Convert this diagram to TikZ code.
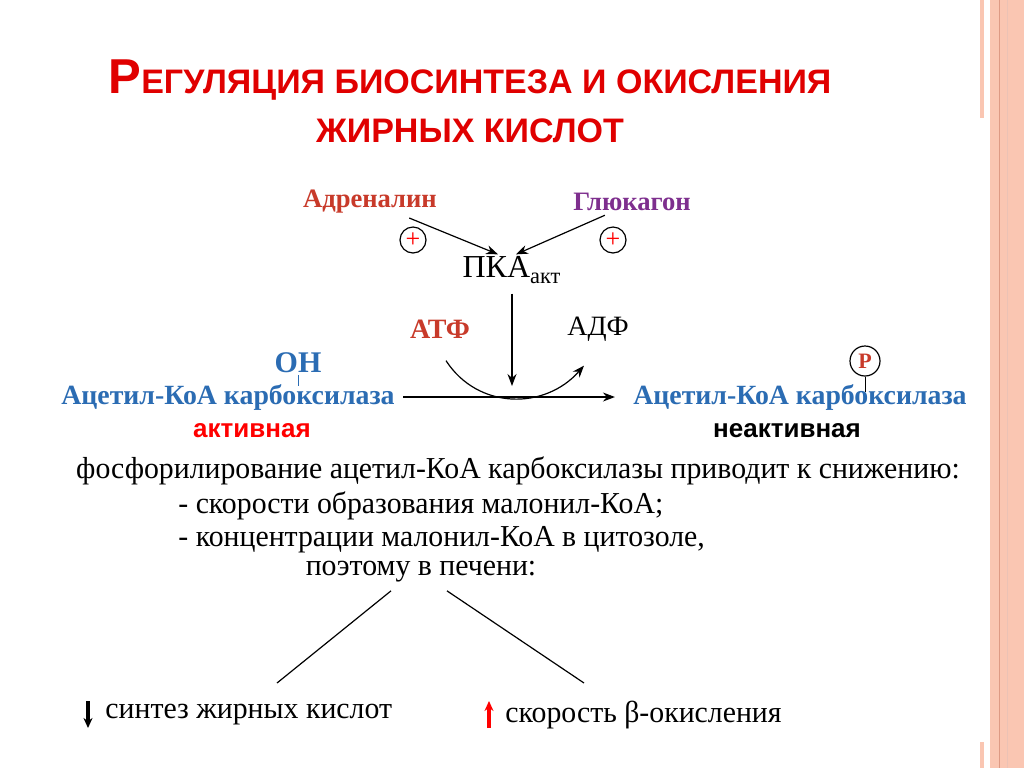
\documentclass[tikz,border=0pt]{standalone}
\usepackage{fontspec}
\setmainfont{Liberation Serif}
\setsansfont{Liberation Sans}
\newfontfamily\narrowserif[FakeStretch=0.98]{Liberation Serif}
\usetikzlibrary{arrows.meta}
\definecolor{titlered}{HTML}{E00000}
\definecolor{adrred}{HTML}{C83A2A}
\definecolor{glupurple}{HTML}{7E2F8E}
\definecolor{enzblue}{HTML}{2B6CB3}
\definecolor{stripcol}{HTML}{FAC6B2}
\definecolor{stripline}{HTML}{DE9A84}
\tikzset{
  txt/.style={inner sep=0pt, font=\narrowserif\fontsize{15.2}{17}\selectfont},
  enz/.style={inner sep=0pt, text=enzblue, font=\bfseries\fontsize{13.9}{15}\selectfont},
  hormone/.style={inner sep=0pt, font=\bfseries\fontsize{13.3}{15}\selectfont},
  state/.style={inner sep=0pt, font=\sffamily\bfseries\fontsize{13}{14}\selectfont},
  plus/.style={circle, draw, line width=0.6pt, minimum size=13pt, inner sep=0pt, text=red, font=\fontsize{13}{13}\selectfont},
  arr/.style={-{Stealth[length=6pt,width=4.5pt]}, line width=0.6pt}
}
\begin{document}
\begin{tikzpicture}[x=0.5pt, y=-0.5pt]
      \useasboundingbox (0,0) rectangle (1024,768);
      \fill[white] (0,0) rectangle (1024,768);

      % Frame on the right
      \fill[stripcol] (990,0) rectangle (1024,768);
      \draw[stripline, line width=0.5pt] (999,0) -- (999,768);
      \draw[stripline!60, line width=0.5pt] (1007,0) -- (1007,768);
      \draw[stripcol, line width=2pt] (982,0) -- (982,118);
      \draw[stripcol, line width=2pt] (982,742) -- (982,768);

      % Title
      \node[inner sep=0pt, text=titlered, font=\sffamily\bfseries] (title1) at (470,80)
        {{\fontsize{24.5}{25}\selectfont Р}{\fontsize{17}{19}\selectfont ЕГУЛЯЦИЯ БИОСИНТЕЗА И ОКИСЛЕНИЯ}};
      \node[inner sep=0pt, text=titlered, font=\sffamily\bfseries\fontsize{17}{19}\selectfont] (title2) at (470,131)
        {ЖИРНЫХ КИСЛОТ};

      % Hormones
      \node[hormone, text=adrred] (adr) at (370,202) {Адреналин};
      \node[hormone, text=glupurple] (glu) at (632,202) {Глюкагон};
      \node[plus] (plusa) at (413,240) {+};
      \node[plus] (plusg) at (613,240) {+};
      \node[inner sep=0pt, font=\fontsize{16}{18}\selectfont] (pka) at (512,270)
        {ПКА\textsubscript{акт}};
      \draw[arr] ([xshift=-14pt,yshift=-2pt]adr.south east) -- ([xshift=-7pt,yshift=1pt]pka.north);
      \draw[arr] ([xshift=16pt,yshift=-2pt]glu.south west) -- ([xshift=2pt,yshift=1pt]pka.north);

      % Phosphorylation
      \node[hormone, text=adrred, font=\bfseries\fontsize{14}{16}\selectfont] (atf) at (440,329) {АТФ};
      \node[inner sep=0pt, font=\fontsize{14}{16}\selectfont] (adf) at (598,329) {АДФ};
      \coordinate (mid) at (512,386);
      \draw[arr] (pka.south -| mid) ++(0,10) -- (mid);

      \node[enz] (acc) at (228,397) {Ацетил-КоА карбоксилаза};
      \node[enz] (accp) at (800,397) {Ацетил-КоА карбоксилаза};
      \draw[arr] ([xshift=4pt]acc.east) -- ([xshift=-9pt]accp.west);
      \draw[line width=0.6pt, -{Stealth[length=6pt,width=4.5pt]}] ([xshift=3pt,yshift=-11pt]atf.south)
        .. controls (478,410) and (545,410) .. ([xshift=-7pt,yshift=-12pt]adf.south);

      \node[enz, font=\bfseries\fontsize{15}{17}\selectfont] (oh) at (298,363) {ОН};
      \draw[enzblue, line width=0.5pt] ([yshift=-1pt]oh.south) -- ++(0,11);
      \node[circle, draw, line width=0.6pt, minimum size=15pt, inner sep=0pt, text=adrred,
        font=\bfseries\fontsize{11}{12}\selectfont] (pgrp) at (865,361) {Р};
      \draw[line width=0.5pt] (pgrp.south) -- ++(0,15);

      \node[state, text=red] (act) at (252,431) {активная};
      \node[state] (inact) at (787,431) {неактивная};

      % Consequences
      \node[txt] (line1) at (518,471) {фосфорилирование ацетил-КоА карбоксилазы приводит к снижению:};
      \node[txt, anchor=west] (line2) at (178,506) {- скорости образования малонил-КоА;};
      \node[txt, anchor=west] (line3) at (178,540) {- концентрации малонил-КоА в цитозоле,};
      \node[txt] (line4) at (421,572) {поэтому в печени:};

      \node[txt, anchor=west] (synth) at (105,715) {синтез жирных кислот};
      \node[txt, anchor=west] (oxid) at (505,715) {скорость β-окисления};
      \coordinate (forka) at (277,683);
      \coordinate (forkb) at (584,683);
      \draw[line width=0.6pt] ([xshift=-15pt,yshift=-4pt]line4.south) -- (forka);
      \draw[line width=0.6pt] ([xshift=13pt,yshift=-4pt]line4.south) -- (forkb);
      \draw[-{Stealth[length=5pt,width=4.5pt]}, line width=1.6pt] ([xshift=-8.5pt,yshift=7pt]synth.west) -- ([xshift=-8.5pt,yshift=-6.5pt]synth.west);
      \draw[red, -{Stealth[length=5pt,width=4.5pt]}, line width=1.6pt] ([xshift=-8pt,yshift=-6.5pt]oxid.west) -- ([xshift=-8pt,yshift=7pt]oxid.west);
\end{tikzpicture}
\end{document}
